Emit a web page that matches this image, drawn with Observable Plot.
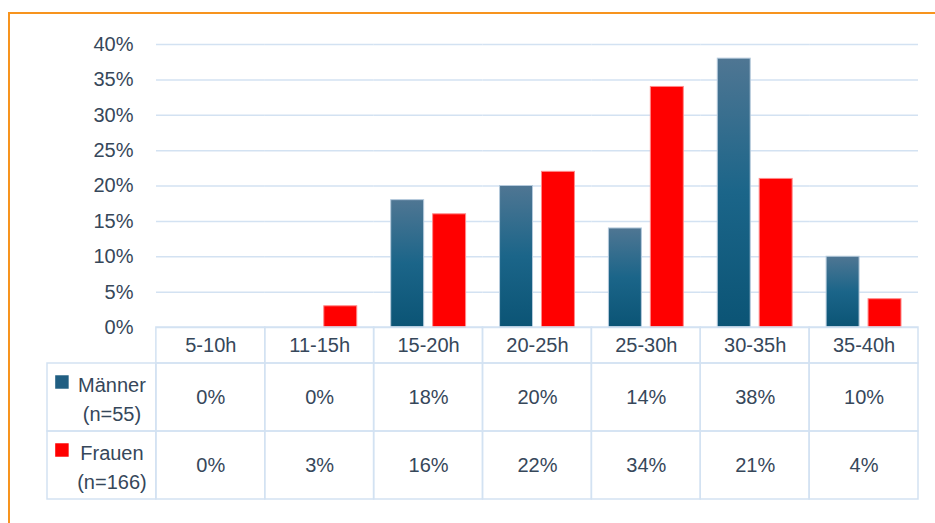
<!DOCTYPE html>
<html>
<head>
<meta charset="utf-8">
<script src="https://cdn.jsdelivr.net/npm/d3@7"></script>
<script src="https://cdn.jsdelivr.net/npm/@observablehq/plot@0.6"></script>
<style>
  html, body { margin: 0; padding: 0; background: #fff; overflow: hidden; width: 935px; height: 523px; }
  #frame { position: absolute; left: 8px; top: 12px; width: 1000px; height: 600px; border: 2.5px solid #f7941e; box-sizing: border-box; }
  #chart { position: absolute; left: 0; top: 0; }
  #chart svg { display: block; overflow: visible; }
</style>
</head>
<body>
<div id="frame"></div>
<div id="chart"></div>
<script>
const categories = ["5-10h", "11-15h", "15-20h", "20-25h", "25-30h", "30-35h", "35-40h"];
const maenner = [0, 0, 18, 20, 14, 38, 10];
const frauen = [0, 3, 16, 22, 34, 21, 4];
const series = ["Männer", "Frauen"];
const seriesLabels = ["Männer\n(n=55)", "Frauen\n(n=166)"];
const yTicks = [0, 5, 10, 15, 20, 25, 30, 35, 40];

const values = { "Männer": maenner, "Frauen": frauen };
const data = categories.flatMap((c, i) => series.map(s => ({ cat: c, series: s, value: values[s][i] })));

const gridColor = "#d3e2f2";
const textColor = "#36475a";
const font = "'Liberation Sans', Arial, sans-serif";
const container = document.getElementById("chart");

const chart = Plot.plot({
  width: 935, height: 327,
  marginLeft: 156, marginRight: 17, marginTop: 44, marginBottom: 0,
  style: { fontFamily: font, fontSize: "20px", color: textColor, background: "transparent" },
  fx: { domain: categories, padding: 0, round: false, axis: null, label: null },
  x: { domain: series, paddingInner: 0.214, paddingOuter: 0.405, round: false, axis: null, label: null },
  y: { domain: [0, 40], axis: null, label: null },
  marks: [
    Plot.gridY(yTicks, { stroke: gridColor, strokeOpacity: 1, strokeWidth: 1.5 }),
    Plot.axisY(yTicks, { tickSize: 0, tickPadding: 23, tickFormat: d => d + "%", fontSize: 20, fill: textColor, label: null }),
    Plot.barY(data, { fx: "cat", x: "series", y: "value", fill: "none" }),
    Plot.barY(data.filter(d => d.series === "Männer" && d.value > 0), {
      fx: "cat", x: "series", y: "value", fill: "url(#gradM)", stroke: "#b5cadc", strokeWidth: 1
    }),
    Plot.barY(data.filter(d => d.series === "Frauen" && d.value > 0), {
      fx: "cat", x: "series", y: "value", fill: "#ff0000", stroke: "#ff8a8a", strokeWidth: 1
    })
  ]
});
const defs = d3.select(chart).insert("defs", ":first-child");
const grad = defs.append("linearGradient").attr("id", "gradM").attr("x1", 0).attr("y1", 0).attr("x2", 0).attr("y2", 1);
grad.append("stop").attr("offset", "0%").attr("stop-color", "#4f7693");
grad.append("stop").attr("offset", "50%").attr("stop-color", "#1b6589");
grad.append("stop").attr("offset", "100%").attr("stop-color", "#0b5475");
container.appendChild(chart);

const header = Plot.plot({
  width: 935, height: 36,
  marginLeft: 47, marginRight: 17, marginTop: 0, marginBottom: 0,
  style: { fontFamily: font, fontSize: "20px", color: textColor, background: "transparent" },
  x: { domain: ["legend", ...categories], padding: 0, round: false, axis: null },
  marks: [
    Plot.cell(categories, { x: d => d, fill: "none", stroke: gridColor, strokeWidth: 1.5 }),
    Plot.text(categories, { x: d => d, text: d => d, fontSize: 20, fill: textColor })
  ]
});
container.appendChild(header);

const cellsAll = series.flatMap(s => ["legend", ...categories].map(c => ({ cat: c, series: s })));
const legendColors = ["#205e82", "#ff0000"];

const table = Plot.plot({
  width: 935, height: 136,
  marginLeft: 47, marginRight: 17, marginTop: 0, marginBottom: 0,
  style: { fontFamily: font, fontSize: "20px", color: textColor, background: "transparent" },
  x: { domain: ["legend", ...categories], padding: 0, round: false, axis: null },
  y: { domain: series, padding: 0, round: false, axis: null },
  marks: [
    Plot.cell(cellsAll, { x: "cat", y: "series", fill: "none", stroke: gridColor, strokeWidth: 1.5 }),
    Plot.text(data, { x: "cat", y: "series", text: d => d.value + "%", fontSize: 20, fill: textColor }),
    Plot.text(series, { x: () => "legend", y: d => d, text: (d, i) => seriesLabels[i], dx: 10, lineHeight: 1.45, fontSize: 20, fill: textColor }),
    Plot.dot(series, { x: () => "legend", y: d => d, symbol: "square", r: 7.6, fill: (d, i) => legendColors[i], dx: -40, dy: -15.5 })
  ]
});
container.appendChild(table);
</script>
</body>
</html>
